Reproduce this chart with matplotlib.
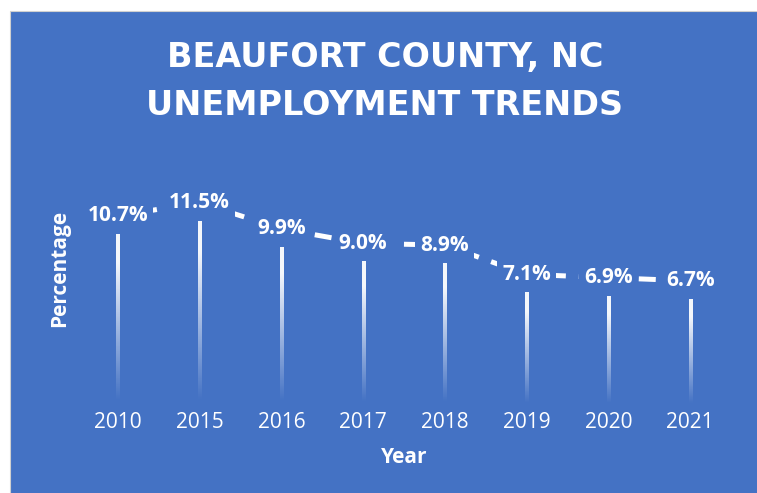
import numpy as np
import matplotlib
matplotlib.use('Agg')
import matplotlib.pyplot as plt
import matplotlib.transforms as mtransforms
from matplotlib.patches import Rectangle

# data
years = ['2010', '2015', '2016', '2017', '2018', '2019', '2020', '2021']
rates = [10.7, 11.5, 9.9, 9.0, 8.9, 7.1, 6.9, 6.7]
labels = [f"{r:.1f}%" for r in rates]
title_lines = ["BEAUFORT COUNTY, NC", "UNEMPLOYMENT TRENDS"]

BLUE = '#4472C4'
W, H = 757, 493

fig = plt.figure(figsize=(W / 100, H / 100), dpi=100, facecolor='white')

# blue chart background, grey border only visible on top/left
bg = Rectangle((10 / W, -0.02), 1.0, (H - 11) / H + 0.02, transform=fig.transFigure,
               facecolor=BLUE, edgecolor='#d0d0d0', linewidth=0.8, zorder=-5)
fig.patches.append(bg)

# plot area in pixels
left, right, bottom, top = 77, 731, H - 408, H - 180
ax = fig.add_axes([left / W, bottom / H, (right - left) / W, (top - bottom) / H])
ax.set_facecolor('none')
for s in ax.spines.values():
    s.set_visible(False)
ax.set_yticks([])
x = np.arange(len(years))
ax.set_xticks(x)
ax.set_xticklabels(years, fontfamily='Open Sans', fontsize=15, color='white')
ax.tick_params(axis='x', length=0, pad=3)

# thin bars with white -> transparent gradient
bars = ax.bar(x, rates, width=0.038, facecolor='none', edgecolor='none')
grad = np.zeros((256, 1, 4))
grad[..., :3] = 1.0
grad[:, 0, 3] = np.clip(np.linspace(1.15, -0.05, 256), 0, 0.95)
for b in bars:
    im = ax.imshow(grad, extent=[b.get_x(), b.get_x() + b.get_width(), 0, b.get_height()],
                   origin='upper', aspect='auto', zorder=2, interpolation='bilinear')
    im.set_clip_path(b)
ax.set_aspect('auto')
ax.set_xlim(-0.5, len(years) - 0.5)
ax.set_ylim(0, 14)

# dashed line sitting just above the bars, labels on top of it
shift = mtransforms.offset_copy(ax.transData, fig=fig, x=0, y=18, units='dots')
ax.plot(x, rates, color='white', lw=3.6, linestyle=(1.5, (3.4, 2.6)),
        transform=shift, zorder=3, dash_capstyle='butt', clip_on=False)
for xi, r, lab in zip(x, rates, labels):
    ax.text(xi, r, lab, transform=shift, ha='center', va='center', fontsize=15,
            fontfamily='Open Sans', fontweight='bold', color='white', zorder=4,
            bbox=dict(boxstyle='square,pad=0.25', facecolor=BLUE, edgecolor='none'))

ax.set_xlabel('Year', fontfamily='Open Sans', fontweight='bold', fontsize=15,
              color='white', labelpad=10)
fig.text(60 / W, 1 - 268 / H, 'Percentage', rotation=90, ha='center', va='center',
         fontfamily='Open Sans', fontweight='bold', fontsize=15, color='white')

# title
for i, line in enumerate(title_lines):
    fig.text(385 / W, 1 - (67 + 48 * i) / H, line, ha='center', va='baseline',
             fontfamily='DejaVu Sans', fontweight='bold', fontsize=24, color='white')

fig.savefig('out.png', dpi=100, facecolor='white')
